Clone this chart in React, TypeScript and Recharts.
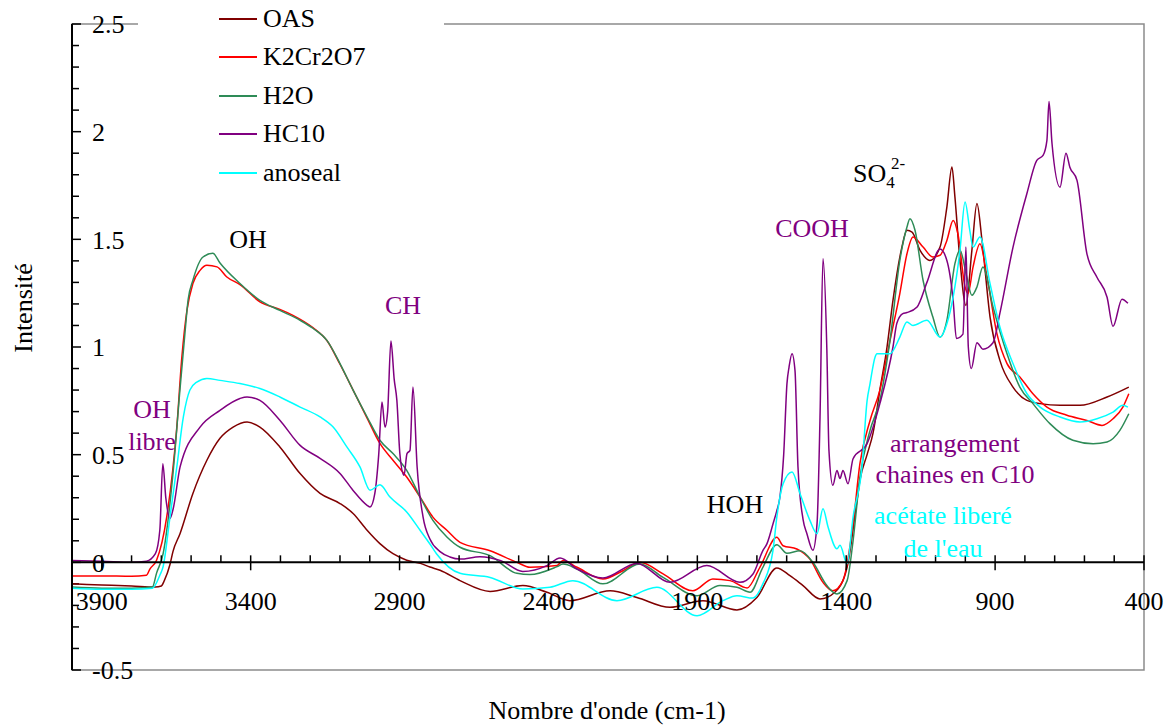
import React from 'react';
import { LineChart, Line, XAxis, YAxis, ReferenceLine, ReferenceDot, ReferenceArea, Legend } from 'recharts';

const FONT = '"Liberation Serif", "Times New Roman", Times, serif';

// Tick values
const X_MAJOR = [3900, 3400, 2900, 2400, 1900, 1400, 900, 400];
const X_MINOR = [3800, 3700, 3600, 3500, 3300, 3200, 3100, 3000, 2800, 2700, 2600, 2500, 2300, 2200, 2100, 2000, 1800, 1700, 1600, 1500, 1300, 1200, 1100, 1000, 800, 700, 600, 500];
const Y_MAJOR = [-0.5, 0, 0.5, 1, 1.5, 2, 2.5];
const Y_MINOR = [-0.4, -0.3, -0.2, -0.1, 0.1, 0.2, 0.3, 0.4, 0.6, 0.7, 0.8, 0.9, 1.1, 1.2, 1.3, 1.4, 1.6, 1.7, 1.8, 1.9, 2.1, 2.2, 2.3, 2.4];

// Series: wavenumber (cm-1) and intensity
const OAS_W = [4000, 3900, 3800, 3720, 3700, 3690, 3671, 3661, 3637, 3594, 3547, 3503, 3459, 3412, 3369, 3302, 3234, 3167, 3100, 3056, 3009, 2966, 2922, 2876, 2830, 2798, 2764, 2697, 2596, 2486, 2405, 2328, 2193, 2103, 1992, 1881, 1767, 1700, 1633, 1589, 1545, 1488, 1438, 1397, 1364, 1354, 1330, 1310, 1287, 1263, 1243, 1213, 1196, 1179, 1152, 1119, 1085, 1062, 1045, 1035, 1018, 998, 978, 961, 944, 917, 884, 840, 793, 749, 682, 615, 524, 451];
const OAS_V = [-0.1, -0.105, -0.11, -0.115, -0.11, -0.085, -0.01, 0.05, 0.134, 0.32, 0.474, 0.576, 0.628, 0.652, 0.628, 0.536, 0.412, 0.32, 0.273, 0.227, 0.149, 0.087, 0.04, 0.01, -0.005, -0.022, -0.037, -0.085, -0.135, -0.108, -0.139, -0.178, -0.132, -0.163, -0.209, -0.178, -0.221, -0.163, -0.026, -0.062, -0.108, -0.17, -0.139, -0.023, 0.286, 0.381, 0.5, 0.6, 0.8, 1.0, 1.217, 1.464, 1.542, 1.534, 1.449, 1.402, 1.464, 1.65, 1.836, 1.697, 1.402, 1.193, 1.449, 1.666, 1.495, 1.139, 0.938, 0.814, 0.752, 0.737, 0.729, 0.729, 0.768, 0.814];

const K2_W = [4000, 3900, 3800, 3750, 3738, 3716, 3682, 3648, 3631, 3614, 3594, 3570, 3547, 3513, 3480, 3436, 3369, 3302, 3258, 3191, 3144, 3100, 3056, 3009, 2966, 2922, 2876, 2831, 2788, 2741, 2697, 2596, 2506, 2462, 2371, 2351, 2304, 2217, 2150, 2093, 2015, 1915, 1848, 1790, 1733, 1690, 1633, 1612, 1566, 1522, 1478, 1445, 1411, 1377, 1354, 1320, 1287, 1253, 1220, 1196, 1176, 1142, 1109, 1085, 1062, 1041, 1025, 1001, 991, 974, 951, 927, 894, 860, 817, 773, 726, 659, 592, 541, 504, 471, 451];
const K2_V = [-0.064, -0.063, -0.065, -0.06, -0.03, 0.01, 0.21, 0.628, 0.954, 1.17, 1.295, 1.356, 1.38, 1.372, 1.325, 1.29, 1.21, 1.175, 1.147, 1.09, 1.03, 0.92, 0.8, 0.67, 0.552, 0.474, 0.396, 0.303, 0.21, 0.149, 0.093, 0.054, 0, -0.023, -0.015, 0.008, -0.023, -0.077, -0.039, 0, -0.054, -0.132, -0.077, -0.085, -0.119, -0.023, 0.116, 0.077, 0.062, 0.015, -0.093, -0.132, -0.085, 0.178, 0.458, 0.659, 0.8, 1.03, 1.248, 1.433, 1.511, 1.464, 1.418, 1.426, 1.495, 1.588, 1.526, 1.279, 1.248, 1.372, 1.48, 1.325, 1.062, 0.923, 0.861, 0.783, 0.721, 0.683, 0.659, 0.636, 0.667, 0.721, 0.783];

const H2O_W = [4000, 3900, 3800, 3730, 3716, 3694, 3661, 3637, 3621, 3610, 3594, 3560, 3527, 3503, 3436, 3369, 3302, 3234, 3191, 3144, 3100, 3056, 3009, 2966, 2922, 2876, 2831, 2788, 2741, 2697, 2596, 2506, 2462, 2371, 2351, 2304, 2217, 2093, 2015, 1901, 1824, 1767, 1723, 1680, 1633, 1599, 1555, 1512, 1465, 1431, 1397, 1377, 1354, 1320, 1287, 1253, 1220, 1196, 1186, 1169, 1142, 1109, 1085, 1062, 1035, 1018, 995, 978, 961, 941, 907, 860, 817, 773, 716, 639, 571, 524, 481, 451];
const H2O_V = [-0.115, -0.12, -0.12, -0.115, -0.05, 0.04, 0.41, 0.81, 1.06, 1.22, 1.31, 1.418, 1.435, 1.39, 1.295, 1.217, 1.17, 1.124, 1.087, 1.031, 0.923, 0.8, 0.675, 0.567, 0.505, 0.427, 0.303, 0.195, 0.118, 0.07, 0.031, -0.051, -0.057, -0.02, -0.008, -0.031, -0.1, -0.008, -0.07, -0.155, -0.108, -0.116, -0.139, -0.023, 0.082, 0.042, 0.054, 0, -0.108, -0.147, -0.085, 0.1, 0.396, 0.613, 0.752, 1.031, 1.402, 1.557, 1.596, 1.542, 1.31, 1.139, 1.046, 1.124, 1.387, 1.449, 1.325, 1.24, 1.279, 1.372, 1.186, 0.969, 0.814, 0.737, 0.644, 0.567, 0.551, 0.559, 0.613, 0.69];

const HC10_W = [4000, 3900, 3800, 3750, 3720, 3705, 3695, 3685, 3671, 3660, 3637, 3570, 3503, 3436, 3412, 3369, 3302, 3234, 3167, 3100, 3056, 3009, 2999, 2983, 2970, 2959, 2949, 2940, 2929, 2918, 2909, 2899, 2885, 2875, 2865, 2855, 2841, 2821, 2798, 2764, 2731, 2697, 2630, 2560, 2486, 2405, 2361, 2304, 2217, 2103, 1992, 1868, 1757, 1713, 1680, 1666, 1646, 1633, 1623, 1610, 1599, 1592, 1582, 1572, 1562, 1545, 1532, 1512, 1498, 1488, 1478, 1465, 1458, 1445, 1431, 1421, 1411, 1394, 1377, 1330, 1287, 1243, 1230, 1210, 1196, 1162, 1129, 1085, 1062, 1041, 1030, 1008, 998, 990, 980, 961, 941, 907, 884, 840, 793, 760, 739, 726, 719, 709, 682, 662, 649, 625, 592, 558, 524, 504, 474, 454];
const HC10_V = [0.008, 0.005, 0.0, 0.005, 0.04, 0.15, 0.458, 0.3, 0.204, 0.25, 0.443, 0.628, 0.706, 0.761, 0.768, 0.752, 0.66, 0.543, 0.483, 0.413, 0.334, 0.265, 0.257, 0.32, 0.5, 0.745, 0.628, 0.7, 1.028, 0.85, 0.752, 0.505, 0.404, 0.505, 0.52, 0.814, 0.443, 0.21, 0.108, 0.05, 0.025, 0.015, 0.026, 0.008, -0.042, -0.015, 0.02, -0.031, -0.073, -0.005, -0.093, -0.015, -0.093, -0.054, 0.054, 0.087, 0.178, 0.24, 0.3, 0.5, 0.83, 0.907, 0.969, 0.89, 0.443, 0.2, 0.133, 0.056, 0.18, 0.675, 1.41, 0.985, 0.52, 0.358, 0.427, 0.389, 0.427, 0.365, 0.481, 0.551, 0.737, 1.0, 1.11, 1.155, 1.16, 1.186, 1.3, 1.455, 1.402, 1.217, 1.04, 1.06, 1.464, 1.0, 0.9, 1.02, 0.99, 1.02, 1.156, 1.463, 1.714, 1.867, 1.89, 1.96, 2.14, 1.946, 1.742, 1.9, 1.835, 1.774, 1.435, 1.324, 1.231, 1.096, 1.222, 1.203];

const ANO_W = [4000, 3900, 3800, 3730, 3705, 3694, 3671, 3648, 3626, 3604, 3581, 3547, 3503, 3436, 3369, 3302, 3234, 3167, 3123, 3077, 3033, 2999, 2966, 2932, 2876, 2831, 2798, 2776, 2697, 2596, 2486, 2395, 2318, 2170, 2036, 1901, 1814, 1767, 1713, 1680, 1646, 1633, 1612, 1582, 1555, 1522, 1498, 1478, 1461, 1431, 1421, 1397, 1377, 1347, 1330, 1320, 1303, 1297, 1253, 1220, 1196, 1176, 1129, 1085, 1062, 1041, 1018, 1001, 985, 974, 951, 917, 884, 840, 793, 749, 682, 615, 558, 504, 471, 454];
const ANO_V = [-0.12, -0.125, -0.125, -0.12, -0.06, -0.02, 0.21, 0.443, 0.675, 0.8, 0.837, 0.854, 0.845, 0.83, 0.807, 0.768, 0.721, 0.675, 0.628, 0.536, 0.443, 0.335, 0.36, 0.303, 0.234, 0.149, 0.085, 0.04, -0.051, -0.07, -0.124, -0.116, -0.085, -0.178, -0.116, -0.248, -0.178, -0.155, -0.166, -0.1, 0.054, 0.21, 0.365, 0.42, 0.319, 0.195, 0.133, 0.249, 0.164, 0.063, 0.079, -0.006, 0.21, 0.443, 0.75, 0.83, 0.954, 0.969, 0.969, 1.046, 1.116, 1.1, 1.124, 1.046, 1.108, 1.232, 1.449, 1.673, 1.542, 1.464, 1.511, 1.294, 1.093, 0.923, 0.783, 0.721, 0.675, 0.652, 0.667, 0.698, 0.729, 0.721];

const zip = (ws: number[], vs: number[]) => {
  const n = Math.min(ws.length, vs.length);
  const out: { w: number; v: number }[] = [];
  for (let i = 0; i < n; i++) out.push({ w: ws[i], v: vs[i] });
  return out;
};

const SERIES = [
  { name: 'OAS', color: '#800000', data: zip(OAS_W, OAS_V) },
  { name: 'K2Cr2O7', color: '#FF0000', data: zip(K2_W, K2_V) },
  { name: 'H2O', color: '#2E8B57', data: zip(H2O_W, H2O_V) },
  { name: 'HC10', color: '#800080', data: zip(HC10_W, HC10_V) },
  { name: 'anoseal', color: '#00FFFF', data: zip(ANO_W, ANO_V) },
];

const LEGEND_ROW_TOP = [4, 42, 81, 119, 158];

const renderLegend = () => (
  <div style={{ position: 'relative', width: 306, height: 192, background: '#fff', fontFamily: FONT, fontSize: 26 }}>
    {SERIES.map((s, i) => (
      <div key={s.name} style={{ position: 'absolute', left: 81, top: LEGEND_ROW_TOP[i], height: 30, display: 'flex', alignItems: 'center', whiteSpace: 'nowrap' }}>
        <svg width={38} height={4} style={{ display: 'block' }}>
          <line x1={0} y1={2} x2={38} y2={2} stroke={s.color} strokeWidth={2} />
        </svg>
        <span style={{ marginLeft: 6, lineHeight: '30px', color: '#000' }}>{s.name}</span>
      </div>
    ))}
  </div>
);

const tickFont = { fontSize: 26, fontFamily: FONT, fill: '#000' };
// minor y tick length expressed in wavenumber units (axis starts at 4000)
const Y_MINOR_TICK_END = 3976.5;

export default function App() {
  return (
    <div style={{ position: 'absolute', left: 0, top: 0, width: 1171, height: 725, background: '#fff' }}>
      <LineChart width={1171} height={725} margin={{ top: 24, right: 27, bottom: 55, left: 72 }}>
        <XAxis type="number" dataKey="w" domain={[400, 4000]} reversed hide allowDataOverflow />
        <YAxis type="number" domain={[-0.5, 2.5]} ticks={Y_MAJOR} interval={0} mirror
          axisLine={{ stroke: '#000', strokeWidth: 2 }} tickLine={{ stroke: '#000', strokeWidth: 1.5 }}
          tickSize={9} tickMargin={11} tick={tickFont} allowDataOverflow />
        <ReferenceArea x1={4000} x2={400} y1={-0.5} y2={2.5} fill="none" stroke="#8c8c8c" strokeWidth={1.5} ifOverflow="visible" />
        {Y_MINOR.map((v) => (
          <ReferenceLine key={'ym' + v} segment={[{ x: 4000, y: v }, { x: Y_MINOR_TICK_END, y: v }]} stroke="#000" strokeWidth={1.5} ifOverflow="visible" />
        ))}
        {SERIES.map((s) => (
          <Line key={s.name} data={s.data} dataKey="v" name={s.name} type="monotone" stroke={s.color}
            strokeWidth={1.5} dot={false} activeDot={false} isAnimationActive={false} />
        ))}
        <ReferenceLine y={0} stroke="#000" strokeWidth={2} ifOverflow="visible" />
        {X_MINOR.map((w) => (
          <ReferenceLine key={'m' + w} segment={[{ x: w, y: 0 }, { x: w, y: 0.0325 }]} stroke="#000" strokeWidth={1.5} ifOverflow="visible" />
        ))}
        {X_MAJOR.map((w) => (
          <ReferenceLine key={'M' + w} segment={[{ x: w, y: 0.0325 }, { x: w, y: -0.037 }]} stroke="#000" strokeWidth={1.5} ifOverflow="visible" />
        ))}
        {X_MAJOR.map((w) => (
          <ReferenceDot key={'L' + w} x={w} y={-0.18} r={0} fill="none" stroke="none" ifOverflow="visible"
            label={{ value: String(w), position: 'center', ...tickFont }} />
        ))}
        <Legend layout="vertical" align="center" verticalAlign="middle" content={renderLegend}
          wrapperStyle={{ left: 138, top: 0, width: 306, height: 192 }} />
      </LineChart>
      <svg width={1171} height={725} style={{ position: 'absolute', left: 0, top: 0, pointerEvents: 'none' }}
        fontFamily={FONT} fontSize={26}>
        <text x={152} y={418} textAnchor="middle" fill="#800080">OH</text>
        <text x={152} y={450} textAnchor="middle" fill="#800080">libre</text>
        <text x={248} y={248} textAnchor="middle" fill="#000">OH</text>
        <text x={403} y={314} textAnchor="middle" fill="#800080">CH</text>
        <text x={812} y={237} textAnchor="middle" fill="#800080">COOH</text>
        <text x={735} y={513} textAnchor="middle" fill="#000">HOH</text>
        <text x={853} y={182} fill="#000">SO<tspan fontSize={17} dy={6}>4</tspan><tspan fontSize={17} x={891} dy={-19}>2-</tspan></text>
        <text x={955} y={452} textAnchor="middle" fill="#800080">arrangement</text>
        <text x={955} y={483} textAnchor="middle" fill="#800080">chaines en C10</text>
        <text x={943} y={524} textAnchor="middle" fill="#00FFFF">acétate liberé</text>
        <text x={943} y={557} textAnchor="middle" fill="#00FFFF">de l'eau</text>
        <text x={607} y={719} textAnchor="middle" fill="#000">Nombre d'onde (cm-1)</text>
        <text x={32} y={308} textAnchor="middle" fill="#000" transform="rotate(-90, 32, 308)">Intensité</text>
      </svg>
    </div>
  );
}
